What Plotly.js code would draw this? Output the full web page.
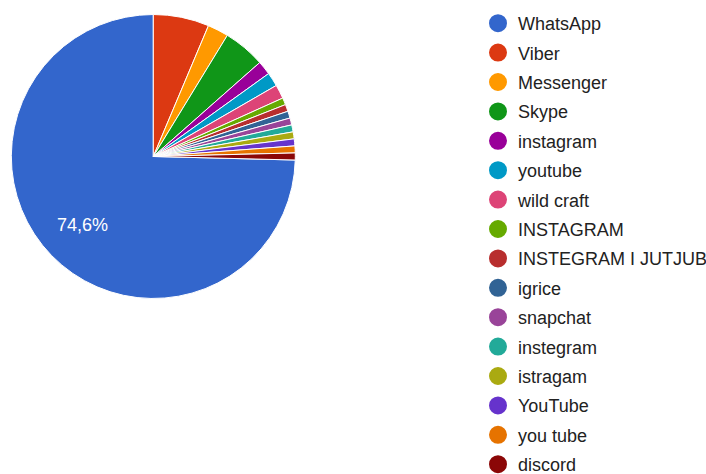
<!DOCTYPE html>
<html>
<head>
<meta charset="utf-8">
<script src="https://cdn.plot.ly/plotly-3.0.1.min.js"></script>
<style>html,body{margin:0;padding:0;background:#fff;}#chart{width:706px;height:474px;}</style>
</head>
<body>
<div id="chart"></div>
<script>
const labels = ["WhatsApp","Viber","Messenger","Skype","instagram","youtube","wild craft","INSTAGRAM","INSTEGRAM I JUTJUB","igrice","snapchat","instegram","istragam","YouTube","you tube","discord"];
const counts = [94,8,3,6,2,2,2,1,1,1,1,1,1,1,1,1];
const colors = ["#3366cc","#dc3912","#ff9900","#109618","#990099","#0099c6","#dd4477","#66aa00","#b82e2e","#316395","#994499","#22aa99","#aaaa11","#6633cc","#e67300","#8b0707"];

const total = counts.reduce((a,b)=>a+b,0);
const share0 = counts[0] / total;
const rot = 360 * (1 - share0);

const FONT = '"Liberation Sans", Arial, sans-serif';
const W = 706, H = 474;
const dom = {x: [0.0160, 0.4183], y: [0.3703, 0.9694]};

const traces = [{
  type: 'pie',
  labels: labels,
  values: counts,
  sort: false,
  direction: 'clockwise',
  rotation: rot,
  marker: {colors: colors, line: {color: '#ffffff', width: 1}},
  textinfo: 'none',
  showlegend: false,
  hoverinfo: 'none',
  domain: dom
}];

labels.forEach((lab, i) => {
  traces.push({
    type: 'scatter',
    mode: 'markers',
    x: [null], y: [null],
    name: lab,
    legendgroup: 'g' + i,
    marker: {color: colors[i], size: 16, symbol: 'circle', line: {color: colors[i], width: 2}},
    showlegend: true,
    hoverinfo: 'none'
  });
});

// label of the largest slice, placed on its bisector (computed from the data)
const cx = (dom.x[0] + dom.x[1]) / 2, cy = (dom.y[0] + dom.y[1]) / 2;
const rPx = Math.min((dom.x[1]-dom.x[0])*W, (dom.y[1]-dom.y[0])*H) / 2;
const mid = (rot + 180 * share0) * Math.PI / 180;
const lx = cx + 0.695 * rPx * Math.sin(mid) / W;
const ly = cy + 0.695 * rPx * Math.cos(mid) / H;
const pctText = (share0 * 100).toFixed(1).replace('.', ',') + '%';

const layout = {
  width: W, height: H,
  margin: {l: 0, r: 0, t: 0, b: 0, autoexpand: false},
  paper_bgcolor: '#ffffff', plot_bgcolor: '#ffffff',
  separators: ',.',
  font: {family: FONT, color: '#222222'},
  xaxis: {visible: false, range: [0,1]},
  yaxis: {visible: false, range: [0,1]},
  showlegend: true,
  legend: {
    xref: 'container', yref: 'container',
    x: 478/706, xanchor: 'left',
    y: 1 - 5/474, yanchor: 'top',
    traceorder: 'grouped',
    tracegroupgap: 3,
    font: {family: FONT, size: 18, color: '#222222'},
    bgcolor: 'rgba(0,0,0,0)',
    borderwidth: 0,
    maxheight: 2000
  },
  annotations: [{
    xref: 'paper', yref: 'paper',
    x: lx, y: ly, xanchor: 'center', yanchor: 'middle',
    text: pctText, showarrow: false,
    font: {family: FONT, size: 18, color: '#ffffff'}
  }]
};

Plotly.newPlot('chart', traces, layout, {staticPlot: true, displayModeBar: false});
</script>
</body>
</html>
